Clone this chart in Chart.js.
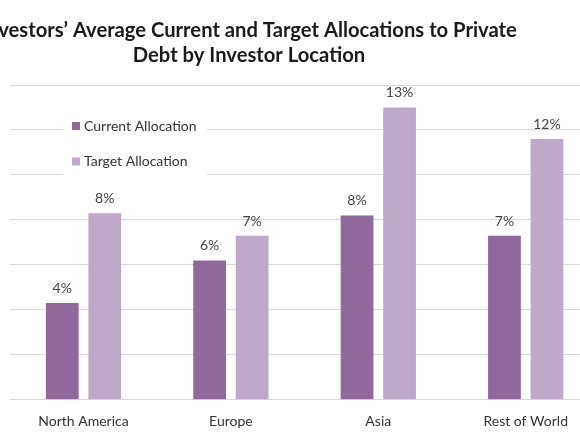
<!DOCTYPE html>
<html>
<head>
<meta charset="utf-8">
<script src="https://cdn.jsdelivr.net/npm/chart.js@4"></script>
<style>
  html, body { margin: 0; padding: 0; background: #fff; overflow: hidden; }
  #wrap { width: 580px; height: 435px; overflow: hidden; position: relative; }
</style>
</head>
<body>
<div id="wrap"><canvas id="chart" width="610" height="440"></canvas></div>
<script>
// chart data
var titleLines = ["Investors’ Average Current and Target Allocations to Private", "Debt by Investor Location"];
var locations = ["North America", "Europe", "Asia", "Rest of World"];
var seriesNames = ["Current Allocation", "Target Allocation"];
var currentAllocation = [4.3, 6.2, 8.2, 7.3];
var targetAllocation = [8.3, 7.3, 13.0, 11.6];
var seriesColors = ["#8f699c", "#bea9c8"];

// title is drawn by hand: the reference is cropped so it isn't centred on the plot
var titlePlugin = {
    id: 'croppedTitle',
    afterDraw: function (chart) {
        var ctx = chart.ctx;
        ctx.save();
        ctx.font = 'bold 20.2px Lato';
        ctx.fillStyle = '#1a1a1a';
        ctx.textAlign = 'center';
        ctx.textBaseline = 'alphabetic';
        ctx.fillText(titleLines[0], 249, 37);
        ctx.fillText(titleLines[1], 249, 62);
        ctx.restore();
    }
};

// legend sits inside the plot, on a white patch over the gridlines
var insideLegend = {
    id: 'insideLegend',
    beforeDatasetsDraw: function (chart) {
        var ctx = chart.ctx;
        ctx.save();
        ctx.fillStyle = '#fff';
        ctx.fillRect(63, 108, 144, 72);
        ctx.font = '14px Lato';
        ctx.textBaseline = 'middle';
        ctx.textAlign = 'left';
        chart.data.datasets.forEach(function (ds, i) {
            var y = 126 + i * 35.5;
            ctx.fillStyle = ds.backgroundColor;
            ctx.fillRect(72, y - 4, 8, 8);
            ctx.fillStyle = '#333';
            ctx.fillText(ds.label, 84, y);
        });
        ctx.restore();
    }
};

var valueLabels = {
    id: 'valueLabels',
    afterDatasetsDraw: function (chart) {
        var ctx = chart.ctx;
        ctx.save();
        ctx.font = '14px Lato';
        ctx.fillStyle = '#444';
        ctx.textAlign = 'center';
        ctx.textBaseline = 'alphabetic';
        chart.data.datasets.forEach(function (ds, i) {
            chart.getDatasetMeta(i).data.forEach(function (bar, j) {
                ctx.fillText(Math.round(ds.data[j]) + '%', bar.x, bar.y - 10);
            });
        });
        ctx.restore();
    }
};

var ctx = document.getElementById('chart').getContext('2d');
new Chart(ctx, {
    type: 'bar',
    data: {
        labels: locations,
        datasets: [
            {
                label: seriesNames[0],
                data: currentAllocation,
                backgroundColor: seriesColors[0],
                categoryPercentage: 0.577,
                barPercentage: 0.77
            },
            {
                label: seriesNames[1],
                data: targetAllocation,
                backgroundColor: seriesColors[1],
                categoryPercentage: 0.577,
                barPercentage: 0.77
            }
        ]
    },
    options: {
        responsive: false,
        animation: false,
        layout: { padding: { left: 9.8, right: 10.6, top: 85, bottom: 5.4 } },
        plugins: {
            legend: { display: false },
            title: { display: false },
            tooltip: { enabled: false }
        },
        scales: {
            x: {
                grid: { display: false },
                border: { display: false },
                ticks: { color: '#333', font: { family: 'Lato', size: 14 }, padding: 5 }
            },
            y: {
                min: 0,
                max: 14,
                ticks: { stepSize: 2, display: false },
                grid: { color: '#d9d9d9', drawTicks: false },
                border: { display: false }
            }
        }
    },
    plugins: [titlePlugin, insideLegend, valueLabels]
});
</script>
</body>
</html>
